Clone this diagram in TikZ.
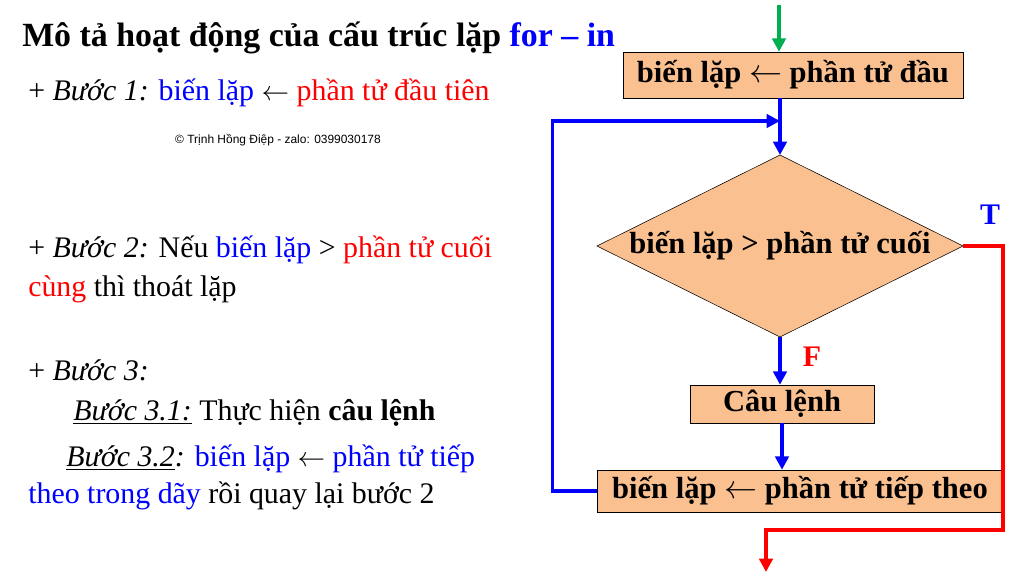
\documentclass[tikz,border=0pt]{standalone}
\usepackage{fontspec}
\setmainfont{Liberation Serif}
\newfontfamily\smallsans{Liberation Sans}
\usetikzlibrary{arrows.meta}
\definecolor{boxfill}{RGB}{250,192,144}
\definecolor{myblue}{RGB}{0,0,255}
\definecolor{myred}{RGB}{255,0,0}
\definecolor{mygreen}{RGB}{0,176,80}
\tikzset{
    stepbox/.style={draw, fill=boxfill, font=\fontsize{23}{26}\selectfont\bfseries, inner sep=0pt},
    flow/.style={myblue, line width=2.5pt, -{Triangle[length=10pt,width=10pt]}},
    lefttext/.style={anchor=west, inner sep=0pt, font=\fontsize{22.5}{25}\selectfont},
}
\begin{document}
\begin{tikzpicture}[x=0.02646cm, y=-0.02646cm]
    \useasboundingbox[fill=white] (0,0) rectangle (1024,586);

    % Title
    \node[anchor=west, inner sep=0pt, font=\fontsize{25.5}{28}\selectfont\bfseries] (title) at (22,38)
        {Mô tả hoạt động của cấu trúc lặp \textcolor{myblue}{for – in}};

    % Left text
    \node[lefttext] (s1) at (28,93) {+ \textit{Bước 1:} \textcolor{myblue}{biến lặp} $\leftarrow$ \textcolor{myred}{phần tử đầu tiên}};
    \node[font=\smallsans\fontsize{9}{10}\selectfont, inner sep=0pt] (copy) at (278,140) {© Trịnh Hồng Điệp - zalo: 0399030178};
    \node[lefttext] (s2) at (28,250) {+ \textit{Bước 2:} Nếu \textcolor{myblue}{biến lặp} > \textcolor{myred}{phần tử cuối}};
    \node[lefttext] (s2b) at (28,289) {\textcolor{myred}{cùng} thì thoát lặp};
    \node[lefttext] (s3) at (28,370) {+ \textit{Bước 3:}};
    \node[lefttext] (s31) at (73,413) {\underline{\textit{Bước 3.1:}} Thực hiện \textbf{câu lệnh}};
    \node[lefttext] (s32) at (66,459) {\underline{\textit{Bước 3.2}}\textit{:} \textcolor{myblue}{biến lặp} $\leftarrow$ \textcolor{myblue}{phần tử tiếp}};
    \node[lefttext] (s32b) at (28,496) {\textcolor{myblue}{theo trong dãy} rồi quay lại bước 2};

    % Flowchart
    \coordinate (condN) at (780,155);
    \coordinate (condE) at (963,246);
    \coordinate (condS) at (780,337);
    \coordinate (condW) at (597,246);
    \draw[fill=boxfill] (condN) -- (condE) -- (condS) -- (condW) -- cycle;

    \node[stepbox, minimum width=340*0.02646cm, minimum height=46*0.02646cm] (init) at (793,75) {biến lặp $\leftarrow$ phần tử đầu};
    \node[stepbox, draw=none, fill=none] (cond) at (780,246) {biến lặp > phần tử cuối};
    \node[stepbox, minimum width=184*0.02646cm, minimum height=38*0.02646cm] (body) at (782,404) {Câu lệnh};
    \node[stepbox, minimum width=405*0.02646cm, minimum height=42*0.02646cm] (next) at (800,491) {biến lặp $\leftarrow$ phần tử tiếp theo};

    \coordinate (start) at (779,5);
    \coordinate (loop) at (780,121);
    \coordinate (exit) at (766,572);

    \draw[flow, mygreen] (start) -- (start |- init.north);
    \draw[flow] (loop |- init.south) -- (condN);
    \draw[flow] (next.west) -- ++(-45,0) |- (loop);
    \draw[flow] (condS) -- (condS |- body.north);
    \draw[flow] (body.south) -- (body.south |- next.north);
    \draw[myred, line width=2.5pt, -{Triangle[length=10pt,width=10pt]}] (condE) -- (1003,246) -- (1003,530) -| (exit);

    % Labels
    \node[myred, font=\fontsize{22.5}{25}\selectfont\bfseries] (flab) at (812,357) {F};
    \node[myblue, font=\fontsize{22.5}{25}\selectfont\bfseries] (tlab) at (990,215) {T};
\end{tikzpicture}
\end{document}
